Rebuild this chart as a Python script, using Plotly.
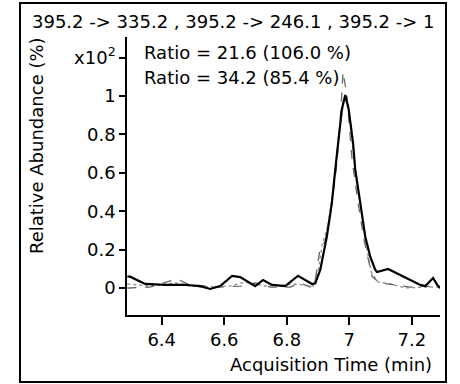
import plotly.graph_objects as go

# Quantifier trace (solid black)
quant_t = [6.29, 6.299, 6.347, 6.411, 6.475, 6.523, 6.555, 6.587, 6.625, 6.651, 6.699, 6.724, 6.753,
           6.795, 6.836, 6.859, 6.881, 6.891, 6.907, 6.928, 6.944, 6.955, 6.964, 6.976, 6.987,
           6.998, 7.012, 7.019, 7.035, 7.051, 7.067, 7.083, 7.089, 7.124, 7.227, 7.243, 7.268, 7.281, 7.29]
quant_y = [0.06, 0.059, 0.021, 0.016, 0.016, 0.010, -0.005, 0.010, 0.063, 0.057, 0.010, 0.042, 0.016,
           0.010, 0.064, 0.042, 0.021, 0.024, 0.094, 0.267, 0.441, 0.615, 0.755, 0.93, 1.005,
           0.93, 0.755, 0.615, 0.443, 0.267, 0.163, 0.094, 0.083, 0.099, 0.016, 0.010, 0.052, 0.016, 0.0]

# Qualifier 1 (grey, ratio 21.6)
qual1_t = [6.29, 6.299, 6.362, 6.449, 6.49, 6.587, 6.651, 6.699, 6.747, 6.811, 6.843, 6.875, 6.891,
           6.906, 6.922, 6.939, 6.958, 6.971, 6.98, 6.992, 7.009, 7.028, 7.047, 7.073, 7.098,
           7.147, 7.195, 7.243, 7.29]
qual1_y = [0.0, 0.0, 0.005, 0.047, 0.016, 0.005, 0.010, 0.026, 0.005, 0.005, 0.026, 0.005, 0.042,
           0.2, 0.241, 0.38, 0.615, 0.875, 1.125, 1.005, 0.667, 0.443, 0.25, 0.059, 0.026,
           0.016, 0.005, 0.010, 0.0]

# Qualifier 2 (light grey, ratio 34.2)
qual2_t = [6.29, 6.299, 6.362, 6.443, 6.523, 6.619, 6.667, 6.731, 6.827, 6.884, 6.901, 6.913, 6.932,
           6.948, 6.964, 6.983, 6.996, 7.012, 7.035, 7.054, 7.07, 7.092, 7.131, 7.179, 7.243, 7.29]
qual2_y = [0.02, 0.02, 0.01, 0.026, 0.005, 0.01, 0.031, 0.01, 0.02, 0.01, 0.094, 0.224, 0.328,
           0.51, 0.77, 0.98, 0.97, 0.72, 0.432, 0.224, 0.083, 0.031, 0.021, 0.0, 0.005, 0.005]

y_tickvals = [0, 0.2, 0.4, 0.6, 0.8, 1.0, 1.2]
y_ticktext = ["0", "0.2", "0.4", "0.6", "0.8", "1", "x10<sup>2</sup>"]
x_tickvals = [6.4, 6.6, 6.8, 7.0, 7.2]
x_ticktext = ["6.4", "6.6", "6.8", "7", "7.2"]

title_text = "395.2 -> 335.2 , 395.2 -> 246.1 , 395.2 -> 1"
ratio_lines = ["Ratio = 21.6 (106.0 %)", "Ratio = 34.2 (85.4 %)"]

FONT = "DejaVu Sans"

fig = go.Figure()
fig.add_trace(go.Scatter(x=qual2_t, y=qual2_y, mode="lines",
                         line=dict(color="#8c8c8c", width=1.3, dash="dot")))
fig.add_trace(go.Scatter(x=qual1_t, y=qual1_y, mode="lines",
                         line=dict(color="#666666", width=1.3, dash="dash")))
fig.add_trace(go.Scatter(x=quant_t, y=quant_y, mode="lines",
                         line=dict(color="black", width=2.2)))

# plot area pixels: x 127..440, y 37..315
L, R, T, B = 127, 440, 37, 315
W, H = 460, 384

def px(xp):
    return (xp - L) / (R - L)

def py(yp):
    return (B - yp) / (B - T)

annotations = [
    dict(text=title_text, x=px(30), y=py(22), xanchor="left", yanchor="middle"),
    dict(text=ratio_lines[0], x=px(142), y=py(53), xanchor="left", yanchor="middle"),
    dict(text=ratio_lines[1], x=px(142), y=py(77), xanchor="left", yanchor="middle"),
    dict(text="Acquisition Time (min)", x=px(331), y=py(364), xanchor="center", yanchor="middle"),
    dict(text="Relative Abundance (%)", x=px(36), y=py(146), xanchor="center", yanchor="middle",
         textangle=-90),
]
for a in annotations:
    a.update(xref="paper", yref="paper", showarrow=False,
             font=dict(family=FONT, size=18, color="black"))

fig.update_layout(
    width=W, height=H,
    margin=dict(l=L, r=W - R, t=T, b=H - B, pad=0),
    paper_bgcolor="white", plot_bgcolor="white",
    showlegend=False,
    annotations=annotations,
    shapes=[dict(type="rect", xref="paper", yref="paper",
                 x0=px(20), x1=px(446), y0=py(382), y1=py(3),
                 line=dict(color="black", width=2), layer="above")],
    font=dict(family=FONT, size=18, color="black"),
)
fig.update_xaxes(range=[6.289, 7.29], tickvals=x_tickvals, ticktext=x_ticktext,
                 showgrid=False, zeroline=False, showline=True, linecolor="black", linewidth=1.5,
                 ticks="outside", ticklen=8, tickwidth=1.5, tickcolor="black",
                 tickfont=dict(family=FONT, size=18, color="black"))
fig.update_yaxes(range=[(288 - 315) / 192, (288 - 37) / 192], tickvals=y_tickvals, ticktext=y_ticktext,
                 showgrid=False, zeroline=False, showline=True, linecolor="black", linewidth=1.5,
                 ticks="outside", ticklen=6, tickwidth=1.5, tickcolor="black",
                 tickfont=dict(family=FONT, size=18, color="black"))

fig.write_html("out.html", config={"displayModeBar": False},
               post_script="document.body.style.margin='0';document.body.style.overflow='hidden';")
